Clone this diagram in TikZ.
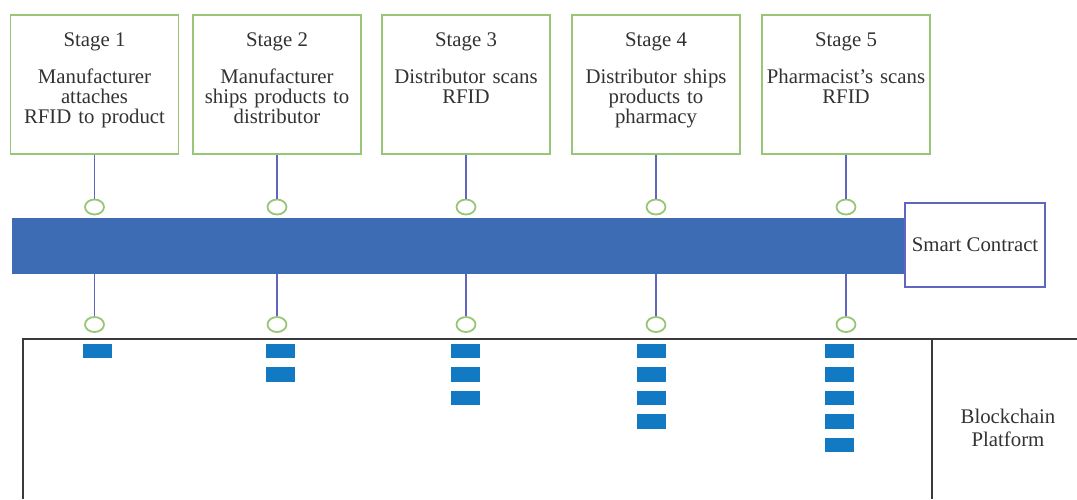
\documentclass[tikz,border=0pt]{standalone}
\usepackage{fontspec}
\setmainfont{Liberation Serif}
\usetikzlibrary{shapes.geometric}
\definecolor{boxgreen}{RGB}{150,198,118}
\definecolor{wire}{RGB}{96,102,192}
\definecolor{barblue}{RGB}{61,107,180}
\definecolor{blockblue}{RGB}{18,122,194}
\definecolor{txt}{RGB}{50,50,50}
\definecolor{frame}{RGB}{58,58,58}
\tikzset{
  stagebox/.style={draw=boxgreen, line width=1.7pt, minimum width=168pt, minimum height=139pt, inner sep=0pt},
  ttl/.style={anchor=base, inner sep=0pt, text=txt, font=\fontsize{20.8}{21}\selectfont},
  body/.style={anchor=base, inner sep=0pt, text=txt, text width=170pt, align=center, font=\fontsize{20.8}{20}\selectfont},
  conn/.style={draw=wire, line width=1.7pt},
  ring/.style={ellipse, draw=boxgreen, line width=1.8pt, fill=white, minimum width=19pt, minimum height=15pt, inner sep=0pt},
  chainblock/.style={fill=blockblue, minimum width=29pt, minimum height=14.5pt, inner sep=0pt},
}
\begin{document}
\begin{tikzpicture}[x=1pt, y=-1pt]
\useasboundingbox (0,0) rectangle (1077,499);

% shared contract bar and its label box
\node[fill=barblue, minimum width=893pt, minimum height=56pt, inner sep=0pt] (bar) at (458.5,245.5) {};
\node[draw=wire, line width=1.6pt, fill=white, minimum width=140pt, minimum height=84pt, inner sep=0pt,
      text=txt, font=\fontsize{20.8}{21}\selectfont] (sc) at (975,245) {Smart Contract};

% blockchain platform frame
\draw[frame, line width=1.9pt] (23,499) -- (23,339) -- (1077,339);
\draw[frame, line width=1.9pt] (932,339) -- (932,499);
\node[align=center, text=txt, font=\fontsize{20.8}{23}\selectfont, inner sep=0pt] (bp) at (1008,428) {Blockchain\\Platform};

% stages: box centre x, block column x, number of blocks, texts
\foreach \i/\cx/\bx/\nb/\tb in {
  1/94.5/97/1/{Manufacturer\\attaches\\RFID to product},
  2/277/280/2/{Manufacturer\\ships products to\\distributor},
  3/466/465/3/{Distributor scans\\RFID},
  4/656/651/4/{Distributor ships\\products to\\pharmacy},
  5/846/839/5/{Pharmacist's scans\\RFID}} {
  \node[stagebox] (s\i) at (\cx,84.5) {};
  \node[ttl] (h\i) at (\cx,46) {Stage \i};
  \node[body] (t\i) at (\cx,83) {\tb};
  \node[ring] (u\i) at (\cx,207) {};
  \node[ring] (d\i) at (\cx,324.5) {};
  \draw[conn] (s\i.south) -- (u\i.north);
  \draw[conn] (u\i |- bar.south) -- (d\i.north);
  \foreach \k in {1,...,\nb} {
    \node[chainblock] (b\i-\k) at (\bx,{351+23.5*(\k-1)}) {};
  }
}
\end{tikzpicture}
\end{document}
